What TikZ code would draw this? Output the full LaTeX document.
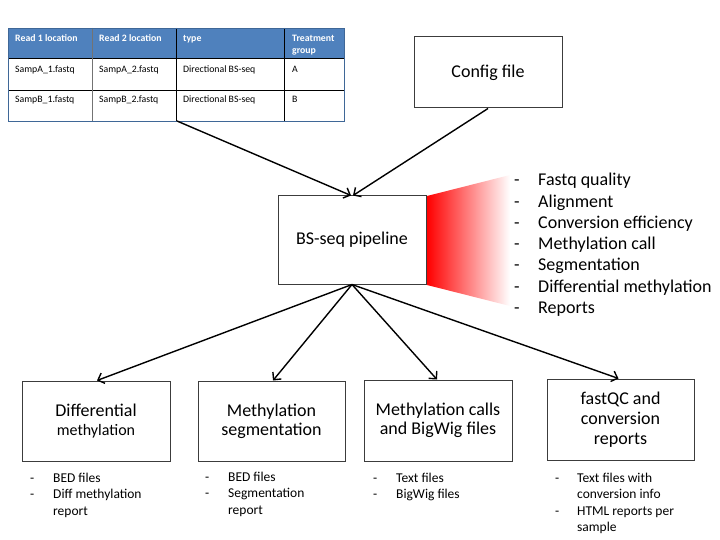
\documentclass[tikz,border=0pt]{standalone}
\usepackage{fontspec}
\setmainfont{Carlito}
\usetikzlibrary{arrows.meta}
\definecolor{tblue}{RGB}{79,129,189}
\definecolor{boxline}{RGB}{60,60,60}
\begin{document}
\begin{tikzpicture}[x=1pt,y=-1pt,
  box/.style={draw=boxline, line width=1pt, fill=white, align=center, inner sep=0pt},
  arr/.style={line width=1.4pt, -{Straight Barb[length=5.5pt,width=11pt]}},
  big/.style={font=\fontsize{18}{21}\selectfont},
  mid/.style={font=\fontsize{18}{19}\selectfont},
  midb/.style={font=\fontsize{18}{20}\selectfont},
  lst/.style={font=\fontsize{18}{21}\selectfont, anchor=base west, inner sep=0pt},
  sm/.style={font=\fontsize{13.5}{16.5}\selectfont, anchor=base west, inner sep=0pt},
  cell/.style={font=\fontsize{9.8}{11}\selectfont, anchor=base west, inner sep=0pt},
  hcell/.style={font=\fontsize{9.8}{11}\selectfont\bfseries, text=white, anchor=base west, inner sep=0pt},
]
\useasboundingbox (0,0) rectangle (720,540);

% ---------- table ----------
\fill[tblue] (8,28) rectangle (344,58);
\draw[black, line width=0.8pt] (8,58) -- (344,58) (8,90) -- (344,90);
\draw[black!55, line width=0.9pt] (92,28) -- (92,121);
\draw[black, line width=0.8pt] (176,28) -- (176,121) (284,28) -- (284,121);
\draw[tblue!80!black, line width=0.6pt] (8,28) rectangle (344,121);
\node[hcell] (h1) at (15,42) {Read 1 location};
\node[hcell] (h2) at (99,42) {Read 2 location};
\node[hcell] (h3) at (183,42) {type};
\node[hcell] (h4a) at (292,42) {Treatment};
\node[hcell] (h4b) at (292,54) {group};
\node[cell] (c11) at (15,73) {SampA\_1.fastq};
\node[cell] (c12) at (99,73) {SampA\_2.fastq};
\node[cell] (c13) at (183,73) {Directional BS-seq};
\node[cell] (c14) at (292,73) {A};
\node[cell] (c21) at (15,103) {SampB\_1.fastq};
\node[cell] (c22) at (99,103) {SampB\_2.fastq};
\node[cell] (c23) at (183,103) {Directional BS-seq};
\node[cell] (c24) at (292,103) {B};
\coordinate (tab) at (177,121);

% ---------- gradient ----------
\shade[left color=red, right color=white] (427,196) -- (510,175) -- (510,306) -- (427,285) -- cycle;

% ---------- boxes ----------
\node[box, big, minimum width=148pt, minimum height=71pt] (config) at (488,72.5) {Config file};
\node[box, big, minimum width=148pt, minimum height=88pt] (pipe) at (352,240) {BS-seq pipeline};
\node[box, mid, minimum width=148pt, minimum height=80pt] (b1) at (96,421)
  {Differential\\{\fontsize{16}{19}\selectfont methylation}};
\node[box, mid, minimum width=147pt, minimum height=80pt] (b2) at (271.5,421) {Methylation\\segmentation};
\node[box, mid, minimum width=148pt, minimum height=81pt] (b3) at (438,420.5) {Methylation calls\\and BigWig files};
\node[box, midb, minimum width=147pt, minimum height=81pt] (b4) at (620.5,419.5) {fastQC and\\conversion\\reports};

% ---------- arrows ----------
\draw[arr] (tab) -- ([xshift=-1pt]pipe.north);
\draw[arr] (config.south) -- ([xshift=1pt]pipe.north);
\draw[arr] (pipe.south) -- ([xshift=1pt]b1.north);
\draw[arr] (pipe.south) -- ([xshift=1.5pt]b2.north);
\draw[arr] (pipe.south) -- ([xshift=-1pt]b3.north);
\draw[arr] (pipe.south) -- ([xshift=-2pt]b4.north);

% ---------- right list ----------
\foreach \t [count=\i] in {Fastq quality, Alignment, Conversion efficiency, Methylation call, Segmentation, Differential methylation, Reports}{
  \node[lst] (rd\i) at (514,{186+21.2*(\i-1)}) {-};
  \node[lst] (rl\i) at (538,{186+21.2*(\i-1)}) {\t};
}

% ---------- bottom lists ----------
\node[sm] (d11) at (30,482) {-};
\node[sm] (t11) at (53,482) {BED files};
\node[sm] (d12) at (30,498.5) {-};
\node[sm] (t12) at (53,498.5) {Diff methylation};
\node[sm] (t13) at (53,515) {report};

\node[sm] (d21) at (205,481) {-};
\node[sm] (t21) at (228,481) {BED files};
\node[sm] (d22) at (205,497.5) {-};
\node[sm] (t22) at (228,497.5) {Segmentation};
\node[sm] (t23) at (228,514) {report};

\node[sm] (d31) at (373,482) {-};
\node[sm] (t31) at (396,482) {Text files};
\node[sm] (d32) at (373,498.5) {-};
\node[sm] (t32) at (396,498.5) {BigWig files};

\node[sm] (d41) at (555,482) {-};
\node[sm] (t41) at (577,482) {Text files with};
\node[sm] (t42) at (577,498.5) {conversion info};
\node[sm] (d42) at (555,515) {-};
\node[sm] (t43) at (577,515) {HTML reports per};
\node[sm] (t44) at (577,531.5) {sample};
\end{tikzpicture}
\end{document}
